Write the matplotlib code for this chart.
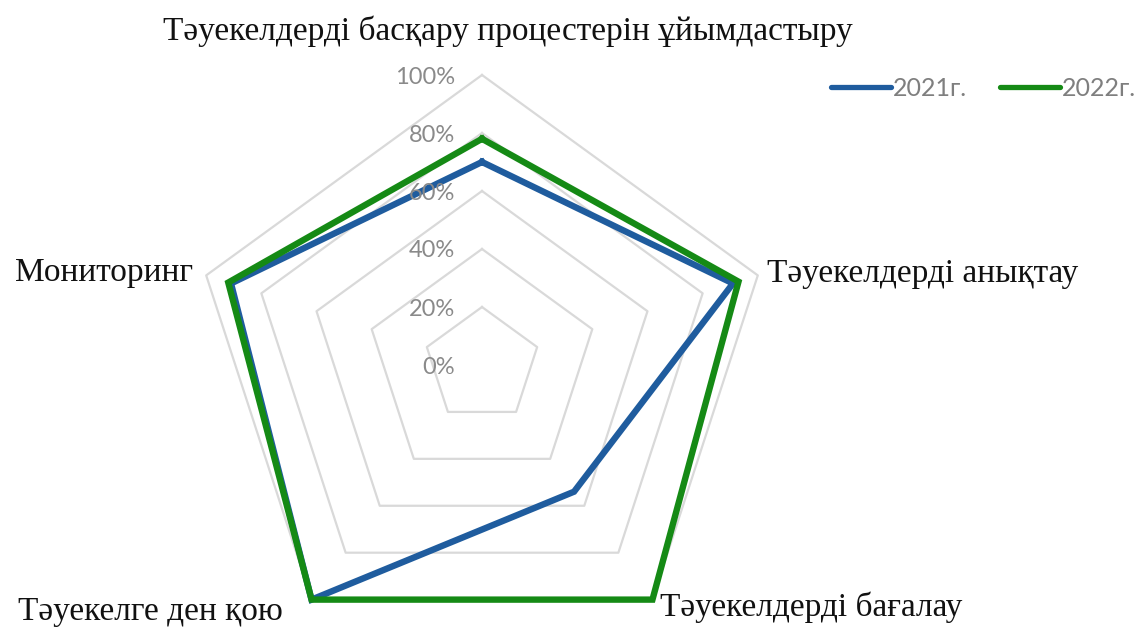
import numpy as np
import matplotlib
matplotlib.use("Agg")
import matplotlib.pyplot as plt

categories = ["Тәуекелдерді басқару процестерін ұйымдастыру",
              "Тәуекелдерді анықтау",
              "Тәуекелдерді бағалау",
              "Тәуекелге ден қою",
              "Мониторинг"]
series_names = ["2021г.", "2022г."]
values_2021 = [0.70, 0.91, 0.54, 1.00, 0.91]
values_2022 = [0.78, 0.93, 1.00, 1.00, 0.92]
tick_values = [0.0, 0.2, 0.4, 0.6, 0.8, 1.0]
tick_labels = ["0%", "20%", "40%", "60%", "80%", "100%"]

W, H = 1140, 630
fig = plt.figure(figsize=(W / 100, H / 100), dpi=100)
fig.patch.set_facecolor("white")

cx, cy, R = 482, 365, 290
ax = fig.add_axes([(cx - R) / W, (H - cy - R) / H, 2 * R / W, 2 * R / H], projection="polar")
ax.set_theta_zero_location("N")
ax.set_theta_direction(-1)
ax.set_ylim(0, 1)
ax.axis("off")

n = len(categories)
theta = np.linspace(0, 2 * np.pi, n, endpoint=False)
theta_c = np.append(theta, theta[0])

# pentagon grid
for t in tick_values[1:]:
    ax.plot(theta_c, [t] * (n + 1), color="#d9d9d9", lw=1.6, zorder=1, clip_on=False)

v21 = values_2021 + values_2021[:1]
v22 = values_2022 + values_2022[:1]
ax.plot(theta_c, v21, color="#1f5c9e", lw=4.6, zorder=2, clip_on=False,
        solid_joinstyle="miter", label=series_names[0])
ax.plot(theta_c, v22, color="#158a15", lw=4.6, zorder=3, clip_on=False,
        solid_joinstyle="miter", label=series_names[1])

# tick labels
tick_font = dict(family="Lato", size=17, color="#8a8a8a")
for t, lab in zip(tick_values, tick_labels):
    ypix = cy - t * R + 2
    fig.text(455 / W, 1 - ypix / H, lab, ha="right", va="center", zorder=1, **tick_font)

# category labels
cat_font = dict(family="Liberation Serif", size=24, color="#111111")
fig.text(508 / W, 1 - 31 / H, categories[0], ha="center", va="center", **cat_font)
fig.text(767 / W, 1 - 274 / H, categories[1], ha="left", va="center", **cat_font)
fig.text(660 / W, 1 - 607 / H, categories[2], ha="left", va="center", **cat_font)
fig.text(18 / W, 1 - 612 / H, categories[3], ha="left", va="center", **cat_font)
fig.text(193 / W, 1 - 273 / H, categories[4], ha="right", va="center", **cat_font)

leg = fig.legend(loc="center right", bbox_to_anchor=(1136 / W, 1 - 88 / H), ncol=2,
                 frameon=False, handlelength=2.4, handletextpad=0.08, columnspacing=1.3,
                 borderpad=0, borderaxespad=0,
                 prop=dict(family="Lato", size=18))
for txt in leg.get_texts():
    txt.set_color("#7f7f7f")
for ln in leg.get_lines():
    ln.set_linewidth(3.8)
    ln.set_solid_capstyle("round")

fig.savefig("out.png", dpi=100, facecolor="white")
